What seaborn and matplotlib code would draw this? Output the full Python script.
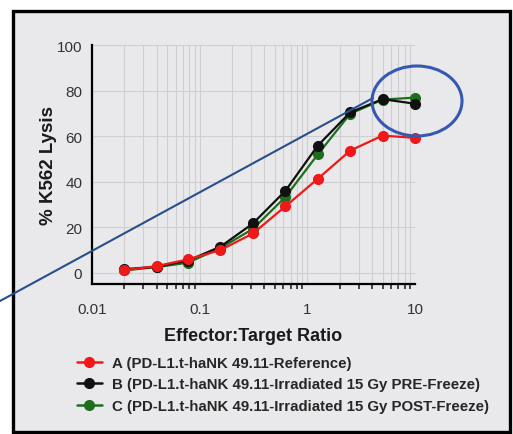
import numpy as np
import pandas as pd
import matplotlib.pyplot as plt
from matplotlib.patches import Rectangle, Ellipse
from matplotlib.lines import Line2D
import seaborn as sns

# effector:target ratios
ratio = [0.02, 0.04, 0.078, 0.156, 0.3125, 0.625, 1.25, 2.5, 5, 10]

# % K562 lysis per sample
lysis_a = [1.0, 2.9, 5.8, 9.9, 17.2, 29.1, 41.2, 53.6, 60.2, 59.2]
lysis_b = [1.5, 2.6, 5.3, 11.4, 21.6, 35.9, 55.8, 70.4, 76.2, 74.2]
lysis_c = [1.0, 2.4, 4.4, 10.8, 19.2, 33.2, 51.9, 69.8, 76.0, 76.9]

names = ["A (PD-L1.t-haNK 49.11-Reference)",
         "B (PD-L1.t-haNK 49.11-Irradiated 15 Gy PRE-Freeze)",
         "C (PD-L1.t-haNK 49.11-Irradiated 15 Gy POST-Freeze)"]
colors = ["#f01818", "#101010", "#1e6e1e"]

df = pd.DataFrame({"ratio": ratio * 3,
                   "lysis": lysis_a + lysis_b + lysis_c,
                   "sample": np.repeat(names, len(ratio))})

sns.set_style("white")
plt.rcParams['font.family'] = ['Liberation Sans', 'DejaVu Sans']

fig = plt.figure(figsize=(5.13, 4.35), dpi=100)
fig.patch.set_facecolor("white")
bg = "#e9e9eb"
# grey panel with black frame
fig.add_artist(Rectangle((13 / 513, 2 / 435), 497 / 513, 421 / 435,
                         transform=fig.transFigure, facecolor=bg,
                         edgecolor="black", lw=2.4, zorder=-5))

ax = fig.add_axes([92 / 513, 150 / 435, 323 / 513, 239 / 435])
ax.set_facecolor(bg)

# draw C then B then A so red sits on top
for name, col in zip(names[::-1], colors[::-1]):
    sub = df[df["sample"] == name]
    sns.lineplot(data=sub, x="ratio", y="lysis", ax=ax, color=col,
                 marker="o", markersize=7, mec=col, mew=1, lw=1.6,
                 clip_on=False)

ax.set_xscale("log")
ax.set_xlim(0.01, 10)
ax.set_ylim(-5, 100)
ax.set_yticks([0, 20, 40, 60, 80, 100])
ax.set_xticks([0.01, 0.1, 1, 10])
ax.set_xticklabels(["0.01", "0.1", "1", "10"])
ax.grid(True, which="both", axis="x", color="#cfcfd2", lw=0.8)
ax.grid(True, which="major", axis="y", color="#cfcfd2", lw=0.8)
for s in ["top", "right"]:
    ax.spines[s].set_visible(False)
for s in ["left", "bottom"]:
    ax.spines[s].set_linewidth(1.6)
    ax.spines[s].set_color("black")
ax.tick_params(axis="both", which="major", length=5, width=1.5,
               labelsize=11, labelcolor="#333333", direction="out")
ax.tick_params(axis="x", which="minor", length=3.5, width=1.2,
               direction="out", bottom=True)
ax.tick_params(axis="x", which="major", pad=8)
ax.tick_params(axis="y", which="major", pad=2)

ax.set_xlabel("Effector:Target Ratio", fontsize=13, fontweight="bold",
              color="#1a1a1a", labelpad=8)
ax.set_ylabel("% K562 Lysis", fontsize=13.5, fontweight="bold",
              color="#1a1a1a", labelpad=0)

handles = [Line2D([], [], color=c, marker="o", markersize=7, mec=c, lw=1.8)
           for c in colors]
fig.legend(handles, names, loc="upper left",
           bbox_to_anchor=(77 / 513, 1 - 357 / 435), frameon=False,
           prop={"weight": "bold", "size": 10.8},
           handlelength=1.65, handletextpad=0.7, labelspacing=0.5,
           borderaxespad=0, borderpad=0)

# highlight annotation
fig.add_artist(Line2D([0, 373 / 513], [1 - 302 / 435, 1 - 99 / 435],
                      transform=fig.transFigure, color="#27508a", lw=1.5,
                      zorder=5))
fig.add_artist(Ellipse((417 / 513, 1 - 102 / 435), 90 / 513, 70 / 435,
                       transform=fig.transFigure, fill=False,
                       edgecolor="#3558b0", lw=2.2, zorder=5))

fig.savefig("out.png", dpi=100, facecolor="white")
